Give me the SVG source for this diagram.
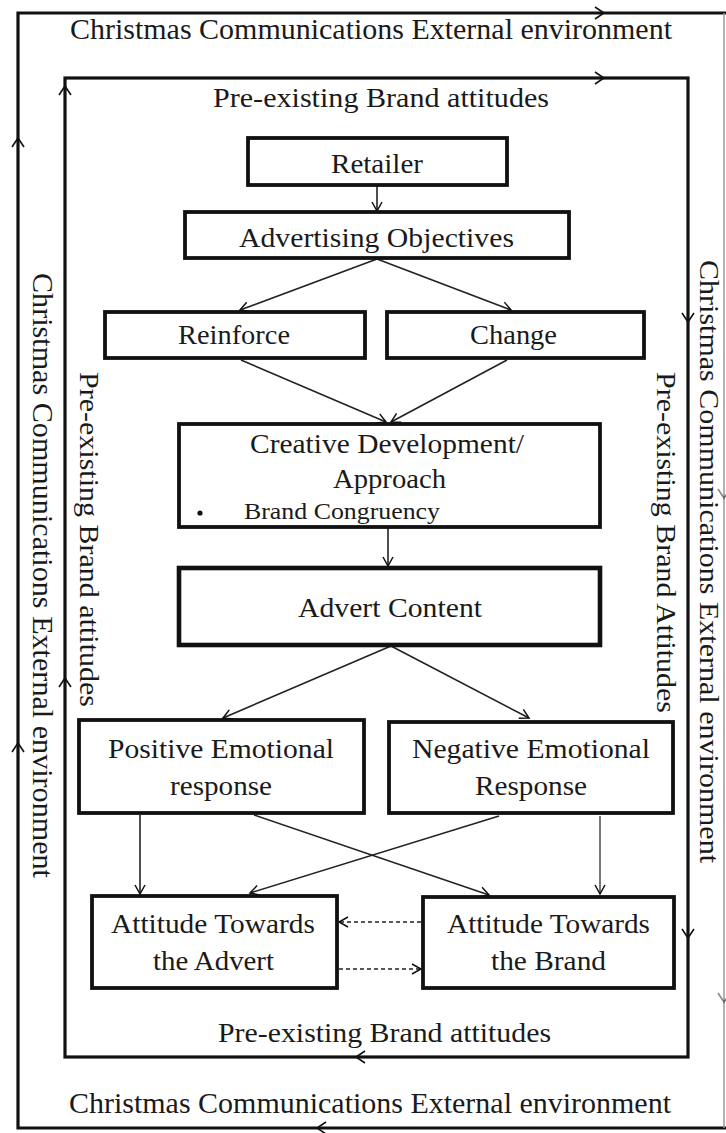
<svg xmlns="http://www.w3.org/2000/svg" width="726" height="1133" viewBox="0 0 726 1133">
<defs>
<marker id="ah" markerWidth="12" markerHeight="12" refX="10" refY="6" orient="auto" markerUnits="userSpaceOnUse">
<path d="M1,1 L10,6 L1,11" fill="none" stroke="#111" stroke-width="1.5"/>
</marker>
<path id="chev" d="M-9,-6 L0,0 L-9,6" fill="none" stroke="#111" stroke-width="1.6"/>
</defs>
<style>
.t{font-family:"Liberation Serif","Times New Roman",serif;fill:#1a1a1a;font-size:28px}
.o{font-size:29px}
.s{font-size:23px}
.box{fill:#fff;stroke:#111;stroke-width:3.8}
.frame{fill:none;stroke:#111;stroke-width:3.2}
.conn{stroke:#222;stroke-width:1.6;fill:none;marker-end:url(#ah)}
.dash{stroke-dasharray:4 3}
</style>
<rect width="726" height="1133" fill="#fff"/>

<g id="outer-frame">
<path class="frame" d="M726,13 L18,13 L18,1128 L726,1128"/>
<line x1="724" y1="13" x2="724" y2="1128" stroke="#999" stroke-width="1.5"/>
<use href="#chev" transform="translate(604,13)"/>
<use href="#chev" transform="translate(18,138) rotate(-90)"/>
<use href="#chev" transform="translate(18,743) rotate(-90)"/>
<use href="#chev" transform="translate(317,1128) rotate(180)"/>
<use href="#chev" transform="translate(724,498) rotate(90)" opacity="0.5"/>
<use href="#chev" transform="translate(724,1002) rotate(90)" opacity="0.5"/>
<text class="t o" x="70" y="39" textLength="602" lengthAdjust="spacingAndGlyphs">Christmas Communications External environment</text>
<text class="t o" x="69" y="1113" textLength="602" lengthAdjust="spacingAndGlyphs">Christmas Communications External environment</text>
<text class="t o" transform="translate(33,273) rotate(90)" textLength="605" lengthAdjust="spacingAndGlyphs">Christmas Communications External environment</text>
<text class="t" transform="translate(700,260) rotate(90)" textLength="603" lengthAdjust="spacingAndGlyphs" style="font-size:27px">Christmas Communications External environment</text>
</g>

<g id="inner-frame">
<rect class="frame" x="65" y="78" width="623" height="979"/>
<use href="#chev" transform="translate(604,78)"/>
<use href="#chev" transform="translate(65,86) rotate(-90)"/>
<use href="#chev" transform="translate(65,678) rotate(-90)"/>
<use href="#chev" transform="translate(688,322) rotate(90)"/>
<use href="#chev" transform="translate(688,938) rotate(90)"/>
<use href="#chev" transform="translate(356,1057) rotate(180)"/>
<text class="t" x="213" y="107" textLength="336" lengthAdjust="spacingAndGlyphs">Pre-existing Brand attitudes</text>
<text class="t" x="218" y="1042" textLength="333" lengthAdjust="spacingAndGlyphs">Pre-existing Brand attitudes</text>
<text class="t" transform="translate(80,372) rotate(90)" textLength="335" lengthAdjust="spacingAndGlyphs">Pre-existing Brand attitudes</text>
<text class="t" transform="translate(657,372) rotate(90)" textLength="341" lengthAdjust="spacingAndGlyphs">Pre-existing Brand Attitudes</text>
</g>

<g id="connectors">
<line class="conn" x1="377" y1="186" x2="377" y2="211"/>
<line class="conn" x1="377" y1="259" x2="240" y2="310"/>
<line class="conn" x1="377" y1="259" x2="511" y2="310"/>
<line class="conn" x1="241" y1="360" x2="386" y2="422"/>
<line class="conn" x1="507" y1="360" x2="391" y2="422"/>
<line class="conn" x1="388" y1="528" x2="388" y2="566"/>
<line class="conn" x1="391" y1="646" x2="223" y2="718"/>
<line class="conn" x1="391" y1="646" x2="529" y2="718"/>
<line class="conn" x1="140" y1="815" x2="140" y2="894"/>
<line class="conn" x1="600" y1="816" x2="600" y2="894" style="stroke:#555"/>
<line class="conn" x1="254" y1="815" x2="489" y2="895"/>
<line class="conn" x1="499" y1="816" x2="250" y2="893"/>
<line class="conn dash" x1="421" y1="922" x2="339" y2="922"/>
<line class="conn dash" x1="339" y1="969" x2="421" y2="969"/>
</g>

<g id="retailer">
<rect class="box" x="248" y="138" width="259" height="47"/>
<text class="t" x="331" y="173" textLength="92" lengthAdjust="spacingAndGlyphs">Retailer</text>
</g>
<g id="advertising-objectives">
<rect class="box" x="185" y="212" width="384" height="46"/>
<text class="t" x="239" y="247" textLength="275" lengthAdjust="spacingAndGlyphs">Advertising Objectives</text>
</g>
<g id="reinforce">
<rect class="box" x="105" y="312" width="260" height="46"/>
<text class="t" x="178" y="344" textLength="112" lengthAdjust="spacingAndGlyphs">Reinforce</text>
</g>
<g id="change">
<rect class="box" x="387" y="312" width="257" height="46"/>
<text class="t" x="470" y="344" textLength="87" lengthAdjust="spacingAndGlyphs">Change</text>
</g>
<g id="creative">
<rect class="box" x="179" y="424" width="421" height="103"/>
<text class="t" x="250" y="453" textLength="274" lengthAdjust="spacingAndGlyphs">Creative Development/</text>
<text class="t" x="333" y="488" textLength="113" lengthAdjust="spacingAndGlyphs">Approach</text>
<circle cx="200" cy="513" r="2.6" fill="#111"/>
<text class="t s" x="244" y="519" textLength="196" lengthAdjust="spacingAndGlyphs">Brand Congruency</text>
</g>
<g id="advert-content">
<rect class="box" x="179" y="568" width="421" height="77" style="stroke-width:4.6"/>
<text class="t" x="298" y="617" textLength="184" lengthAdjust="spacingAndGlyphs">Advert Content</text>
</g>
<g id="positive">
<rect class="box" x="79" y="720" width="285" height="93"/>
<text class="t" x="108" y="758" textLength="226" lengthAdjust="spacingAndGlyphs">Positive Emotional</text>
<text class="t" x="170" y="795" textLength="102" lengthAdjust="spacingAndGlyphs">response</text>
</g>
<g id="negative">
<rect class="box" x="389" y="722" width="284" height="91"/>
<text class="t" x="412" y="758" textLength="238" lengthAdjust="spacingAndGlyphs">Negative Emotional</text>
<text class="t" x="475" y="795" textLength="112" lengthAdjust="spacingAndGlyphs">Response</text>
</g>
<g id="attitude-advert">
<rect class="box" x="92" y="896" width="245" height="92"/>
<text class="t" x="111" y="933" textLength="204" lengthAdjust="spacingAndGlyphs">Attitude Towards</text>
<text class="t" x="153" y="970" textLength="121" lengthAdjust="spacingAndGlyphs">the Advert</text>
</g>
<g id="attitude-brand">
<rect class="box" x="423" y="897" width="251" height="91"/>
<text class="t" x="447" y="933" textLength="203" lengthAdjust="spacingAndGlyphs">Attitude Towards</text>
<text class="t" x="491" y="970" textLength="115" lengthAdjust="spacingAndGlyphs">the Brand</text>
</g>
</svg>
